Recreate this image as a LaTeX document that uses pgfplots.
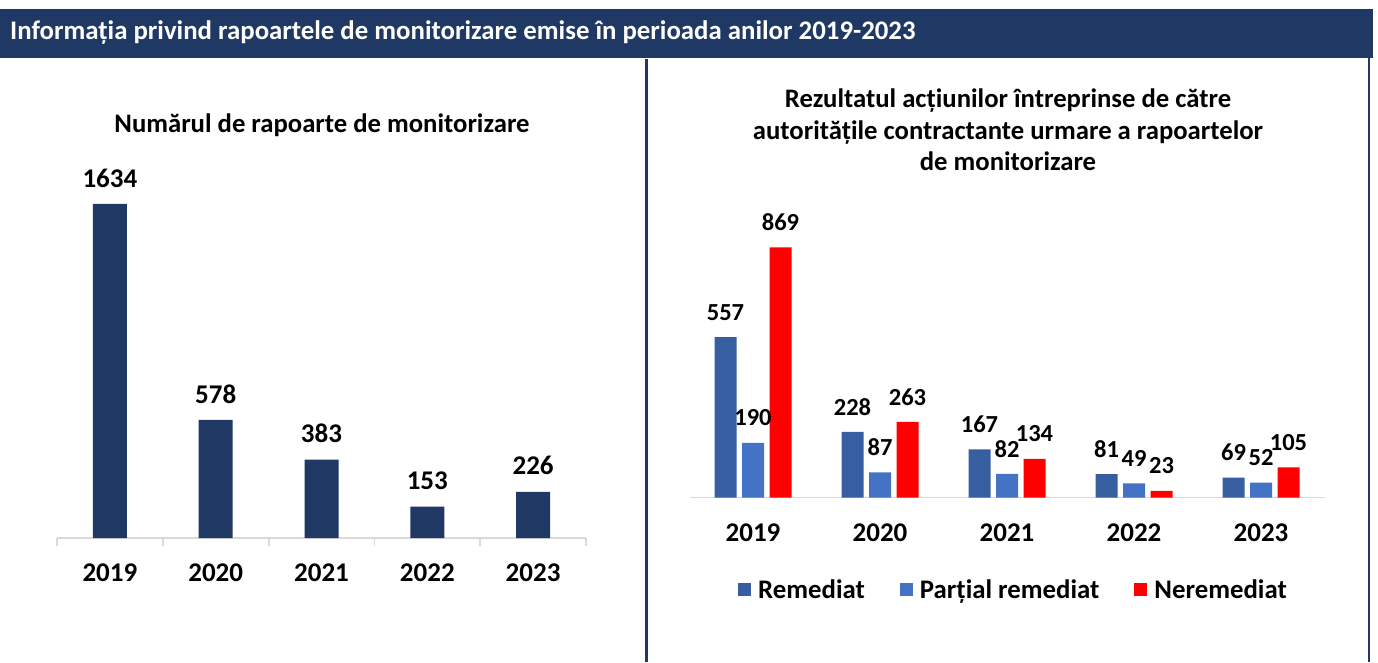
\documentclass[border=0pt]{standalone}
\usepackage{fontspec}
\setmainfont{Carlito}
\usepackage{pgfplots}
\pgfplotsset{compat=1.18}
\definecolor{navy}{RGB}{32,56,100}
\definecolor{remc}{RGB}{55,94,160}
\definecolor{parc}{RGB}{68,114,196}
\definecolor{nerc}{RGB}{255,0,0}
\definecolor{basec}{RGB}{217,217,217}
\pgfplotsset{sqlegend/.style={legend image code/.code={\fill[##1,draw=none] (0pt,-6.5pt) rectangle (13pt,6.5pt);}}}
\begin{document}
\begin{tikzpicture}[x=1pt,y=1pt]
\useasboundingbox[fill=white] (0,0) rectangle (1378,662);
\fill[navy] (0,653) rectangle (1373,604);
\node[anchor=west,text=white,font=\bfseries\fontsize{26.8}{31}\selectfont,inner sep=0pt] at (10,629) {Informația privind rapoartele de monitorizare emise în perioada anilor 2019-2023};
\fill[navy] (644.5,0) rectangle (647.5,603);
\fill[navy] (1367.5,0) rectangle (1370,604);
\node[font=\bfseries\fontsize{26.7}{31}\selectfont] at (322,537) {Numărul de rapoarte de monitorizare};
\node[font=\bfseries\fontsize{26.7}{31.5}\selectfont,align=center] at (1008,532) {Rezultatul acțiunilor întreprinse de către\\autoritățile contractante urmare a rapoartelor\\de monitorizare};
\begin{axis}[at={(57pt,124pt)}, anchor=south west, scale only axis,
  width=529pt, height=350pt, xmin=-0.5, xmax=4.5, ymin=0, ymax=1712,
  axis x line=bottom, axis y line=none,
  axis line style={basec,line width=1.8pt,-},
  xtick={0,...,4}, xticklabels={2019,2020,2021,2022,2023},
  major tick length=0pt, minor xtick={-0.5,0.5,...,4.5}, minor tick length=8pt,
  xtick align=outside, minor tick style={basec,line width=1.8pt},
  xticklabel style={font=\bfseries\fontsize{27}{32}\selectfont, anchor=center, yshift=-35pt},
  /pgf/number format/assume math mode=true, /pgf/number format/1000 sep={},
  ybar, bar width=34pt,
  nodes near coords,
  every node near coord/.append style={font=\bfseries\fontsize{27}{32}\selectfont, anchor=center, yshift=26pt, text=black},
  clip=false]
\addplot[fill=navy, draw=none] coordinates {(0,1634) (1,578) (2,383) (3,153) (4,226)};
\end{axis}
\begin{axis}[at={(689.5pt,164.5pt)}, anchor=south west, scale only axis,
  width=635pt, height=297pt, xmin=-0.5, xmax=4.5, ymin=0, ymax=1032.3,
  axis x line=bottom, axis y line=none,
  axis line style={basec,line width=1.8pt,-},
  xtick={0,...,4}, xticklabels={2019,2020,2021,2022,2023},
  major tick length=0pt,
  xticklabel style={font=\bfseries\fontsize{27}{32}\selectfont, anchor=center, yshift=-35.5pt},
  /pgf/number format/assume math mode=true, /pgf/number format/1000 sep={},
  ybar=5.5pt, bar width=22pt,
  nodes near coords,
  every node near coord/.append style={font=\bfseries\fontsize{24.5}{29}\selectfont, anchor=center, yshift=25pt, text=black},
  legend columns=3,
  legend style={draw=none, fill=none, at={(0.5087,-0.3114)}, anchor=center,
    font=\bfseries\fontsize{26.8}{31}\selectfont, inner sep=0pt,
    nodes={inner sep=0pt},
    /tikz/every odd column/.append style={column sep=7pt},
    /tikz/every even column/.append style={column sep=35pt}},
  clip=false]
\addplot[fill=remc, draw=none, sqlegend] coordinates {(0,557) (1,228) (2,167) (3,81) (4,69)};
\addplot[fill=parc, draw=none, sqlegend] coordinates {(0,190) (1,87) (2,82) (3,49) (4,52)};
\addplot[fill=nerc, draw=none, sqlegend] coordinates {(0,869) (1,263) (2,134) (3,23) (4,105)};
\legend{Remediat, Parțial remediat, Neremediat}
\end{axis}
\end{tikzpicture}
\end{document}
